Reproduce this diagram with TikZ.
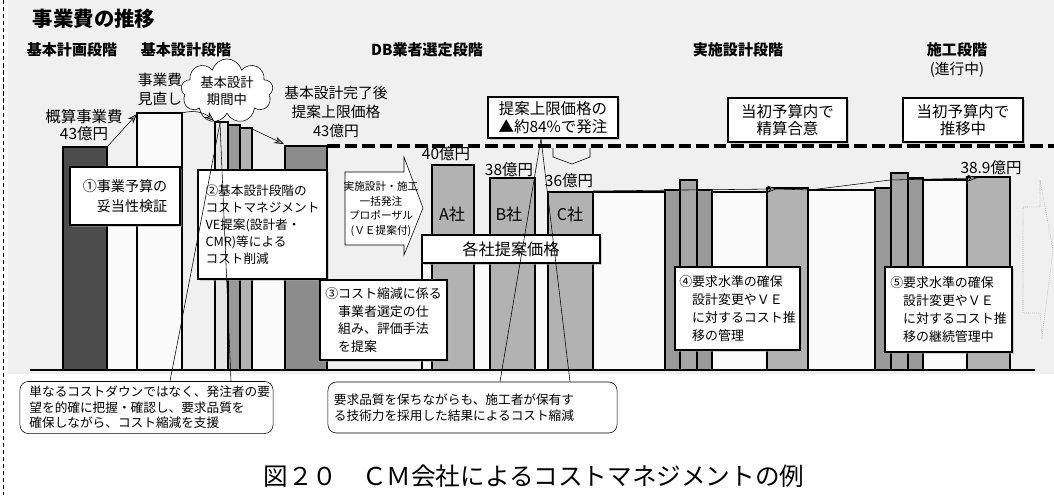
\documentclass[tikz,border=0pt]{standalone}
\usepackage{fontspec}
\setmainfont{Noto Sans CJK JP}
\usetikzlibrary{arrows.meta, shapes.symbols, shadows}

\tikzset{
  bar/.style={draw, line width=1.1pt},
  box/.style={draw, line width=1pt, fill=white, align=left, inner sep=2pt,
    drop shadow={shadow xshift=1.5pt, shadow yshift=-1.5pt, fill=black!35}},
  note/.style={draw, thin, rounded corners=6pt, fill=white, align=left,
    font=\fontsize{9}{11}\selectfont},
  tag/.style={align=center, font=\fontsize{10.5}{13.5}\selectfont},
  stage/.style={font=\bfseries\fontsize{10.7}{13}\selectfont},
  money/.style={font=\fontsize{11}{13}\selectfont},
  firm/.style={font=\fontsize{11.5}{13}\selectfont},
  rise/.style={thin, -{Stealth[length=7pt, width=5pt, fill=black!45]}},
}
\newcommand{\indt}{\hphantom{①}}

\begin{document}
\begin{tikzpicture}[x=0.025cm, y=-0.025cm]
\useasboundingbox (0,0) rectangle (1054,495);
\fill[black!6] (8,0) rectangle (1054,374);
\draw[densely dashed] (3,0) -- (3,495);

% headings
\node[font=\bfseries\fontsize{14.5}{16}\selectfont] (title) at (94,19) {事業費の推移};
\node[stage] (st1) at (72,50) {基本計画段階};
\node[stage] (st2) at (186,50) {基本設計段階};
\node[stage] (st3) at (427,50) {DB業者選定段階};
\node[stage] (st4) at (738,50) {実施設計段階};
\node[stage] (st5) at (957,50) {施工段階};
\node[tag] (st5b) at (957,70) {(進行中)};

% bars
\foreach \xa/\xb/\yt/\tone in {63/107/147/70, 107/137/180/2, 137/182/113/2,
    215/228/122/10, 228/240/125/40, 240/252/128/30, 252/285/200/2, 285/327/146/45,
    422/432/250/2, 432/474/165/30, 474/490/250/2, 490/535/178/30, 535/548/250/2,
    548/593/192/30, 593/665/192/2, 665/680/190/40, 680/697/180/35, 697/712/190/40,
    712/767/192/2, 767/808/188/30, 808/875/190/2, 875/891/188/40, 891/908/173/35,
    908/923/178/40, 923/967/180/2, 967/1010/177/30}
  \draw[bar, fill=black!\tone] (\xa,\yt) rectangle (\xb,370);
\draw[line width=1.6pt] (30,370) -- (1035,370);
\draw[line width=2.4pt, dash pattern=on 9pt off 3.5pt] (327,146) -- (1054,146);
\draw[black!40, densely dotted] (1023,207) -- (1040,207) -- (1040,180) -- (1053,250)
  -- (1042,337) -- (1040,313) -- (1023,313) -- cycle;

% cost trend
\coordinate (planTop) at (107,147);
\coordinate (reviewTop) at (137,114);
\coordinate (reviewEnd) at (182,113);
\coordinate (designTop) at (214,121);
\coordinate (designEnd) at (252,129);
\coordinate (capTop) at (284,144);
\coordinate (cTop) at (593,191);
\coordinate (midMark) at (777,189);
\coordinate (builtTop) at (977,178);
\draw[rise] (planTop) -- (reviewTop);
\node[cloud, draw, fill=white, cloud puffs=9, aspect=1.6, minimum width=2.3cm,
  minimum height=1.5cm, inner sep=0pt, align=center,
  font=\fontsize{9.5}{12.5}\selectfont] (period) at (227,91) {基本設計\\期間中};
\draw[rise] (reviewEnd) .. controls (196,109) and (206,114) .. (designTop);
\draw[rise] (designEnd) -- (capTop);
\draw[rise] (cTop) -- (midMark);
\draw[rise] (midMark) -- (810,190) -- (890,180) -- (builtTop);
\draw[thin] (553,148) -- (553,157) -- (572,164) -- (590,157) -- (590,148);

% labels
\node[tag, font=\fontsize{11}{11.5}\selectfont] (rough) at (84,125) {概算事業費\\43億円};
\node[tag] (review) at (160,89) {事業費\\見直し};
\node[tag] (capLabel) at (336,112) {基本設計完了後\\提案上限価格\\43億円};
\node[money] (m40) at (446,154) {40億円};
\node[money] (m38) at (509,170) {38億円};
\node[money] (m36) at (569,181) {36億円};
\node[money] (m389) at (991,168) {38.9億円};
\node[firm] (firmA) at (452,214) {A社};
\node[firm] (firmB) at (509,214) {B社};
\node[firm] (firmC) at (570,214) {C社};

% boxes
\node[box, minimum width=2.75cm, minimum height=1.45cm, font=\fontsize{10}{14}\selectfont]
  (chk) at (125,196) {①事業予算の\\\indt 妥当性検証};
\node[box, minimum width=3.225cm, minimum height=2.725cm, font=\fontsize{9}{12.2}\selectfont]
  (cmDesign) at (262.5,224.5) {②基本設計段階の\\コストマネジメント\\VE提案(設計者・\\CMR)等による\\コスト削減};
\node[box, minimum width=3.175cm, minimum height=2cm, font=\fontsize{9.2}{12.4}\selectfont]
  (selScheme) at (383.5,320) {③コスト縮減に係る\\\indt 事業者選定の仕\\\indt 組み、評価手法\\\indt を提案};
\node[box, minimum width=3.125cm, minimum height=2.075cm, font=\fontsize{9.2}{12.8}\selectfont]
  (mngDesign) at (737.5,308.5) {④要求水準の確保\\\indt 設計変更やＶＥ\\\indt に対するコスト推\\\indt 移の管理};
\node[box, minimum width=3.175cm, minimum height=2.125cm, font=\fontsize{9.2}{12.8}\selectfont]
  (mngBuild) at (948.5,309.5) {⑤要求水準の確保\\\indt 設計変更やＶＥ\\\indt に対するコスト推\\\indt 移の継続管理中};
\node[box, align=center, minimum width=3.25cm, minimum height=1.025cm, font=\fontsize{11}{12.8}\selectfont]
  (capbox) at (553,117.5) {提案上限価格の\\▲約84\%で発注};
\node[box, align=center, minimum width=2.975cm, minimum height=1.1cm, font=\fontsize{11}{12}\selectfont]
  (budgetA) at (787.5,120) {当初予算内で\\精算合意};
\node[box, align=center, minimum width=3cm, minimum height=1.1cm, font=\fontsize{11}{12}\selectfont]
  (budgetB) at (963,120) {当初予算内で\\推移中};
\node[box, align=center, minimum width=4.45cm, minimum height=0.7cm, font=\fontsize{11.5}{13}\selectfont]
  (prices) at (511,249) {各社提案価格};
\draw[thin, fill=white] (345,172) -- (404,172) -- (404,157) -- (423,208) -- (404,255)
  -- (404,245) -- (345,245) -- cycle;
\node[align=center, font=\fontsize{7.6}{10.3}\selectfont] (propArrow) at (381,209)
  {実施設計・施工\\一括発注\\プロポーザル\\(ＶＥ提案付)};

% notes
\node[note, minimum width=6.325cm, minimum height=1.275cm, text width=5.85cm] (noteL) at (146.5,407.5)
  {単なるコストダウンではなく、発注者の要\\望を的確に把握・確認し、要求品質を\\確保しながら、コスト縮減を支援};
\node[note, minimum width=7.225cm, minimum height=1.275cm, text width=6.925cm] (noteR) at (472.5,407.5)
  {要求品質を保ちながらも、施工者が保有す\\る技術力を採用した結果によるコスト縮減};
\coordinate (designMark) at (220,123);
\draw[thin] (noteL.north -| 170,0) -- (designMark);
\draw[thin] (noteL.north -| 231,0) -- (designMark);
\draw[thin] (noteR.north -| 500,0) -- (capbox.south -| 541,0);
\draw[thin] (noteR.north -| 570,0) -- (capbox.south -| 541,0);

\node[font=\fontsize{17.5}{20}\selectfont] (cap) at (534,476) {図２０　ＣＭ会社によるコストマネジメントの例};
\end{tikzpicture}
\end{document}
